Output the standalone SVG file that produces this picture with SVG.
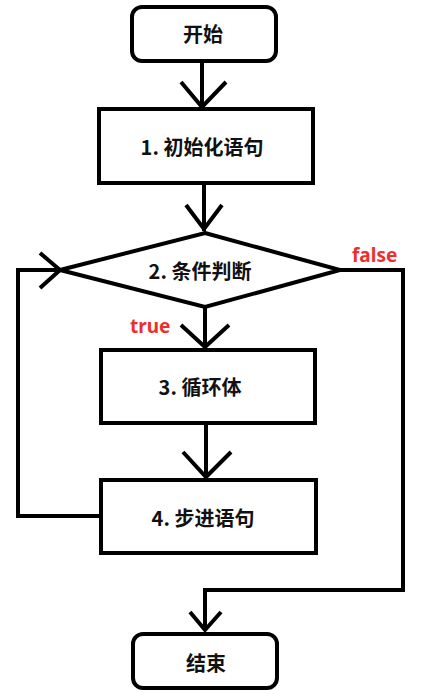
<svg xmlns="http://www.w3.org/2000/svg" width="429" height="694" viewBox="0 0 429 694">
<style>
.shape{fill:#fff;stroke:#000;stroke-width:4}
.line{fill:none;stroke:#000;stroke-width:4;stroke-linejoin:miter}
.t{font-family:"Noto Sans CJK SC","Liberation Sans",sans-serif;font-size:20px;font-weight:bold;fill:#111;text-anchor:middle;dominant-baseline:central}
.lbl{font-family:"Noto Sans","Liberation Sans",sans-serif;font-size:19px;font-weight:bold;fill:#ee2e2e}
</style>
<rect width="429" height="694" fill="#fff"/>
<g id="connectors">
<path class="line" d="M202 62V107M181 82L202 107L226 82"/>
<path class="line" d="M204 183V231M186 205L204 229L222 205"/>
<path class="line" d="M205 307V347M181 325L205 347L229 325"/>
<path class="line" d="M206 423V477M183 452L206 477L231 452"/>
<path class="line" d="M100 516H18V270H60M40 253L60 270L40 288"/>
<path class="line" d="M340 270H403V590H205V630M190 612L205 630L221 612"/>
</g>
<g id="start"><rect class="shape" x="132" y="7" width="144" height="54" rx="10"/><text class="t" x="203" y="33">开始</text></g>
<g id="init"><rect class="shape" x="99" y="109" width="214" height="74"/><text class="t" x="202" y="146">1. 初始化语句</text></g>
<g id="cond"><polygon class="shape" points="205,233 340,270 205,307 60,270"/><text class="t" x="200" y="270">2. 条件判断</text></g>
<g id="body"><rect class="shape" x="101" y="350" width="214" height="73"/><text class="t" x="200" y="386">3. 循环体</text></g>
<g id="step"><rect class="shape" x="101" y="480" width="215" height="73"/><text class="t" x="203" y="517">4. 步进语句</text></g>
<g id="end"><rect class="shape" x="133" y="634" width="144" height="54" rx="10"/><text class="t" x="206" y="662">结束</text></g>
<text class="lbl" x="352" y="262">false</text>
<text class="lbl" x="130" y="333">true</text>
</svg>
